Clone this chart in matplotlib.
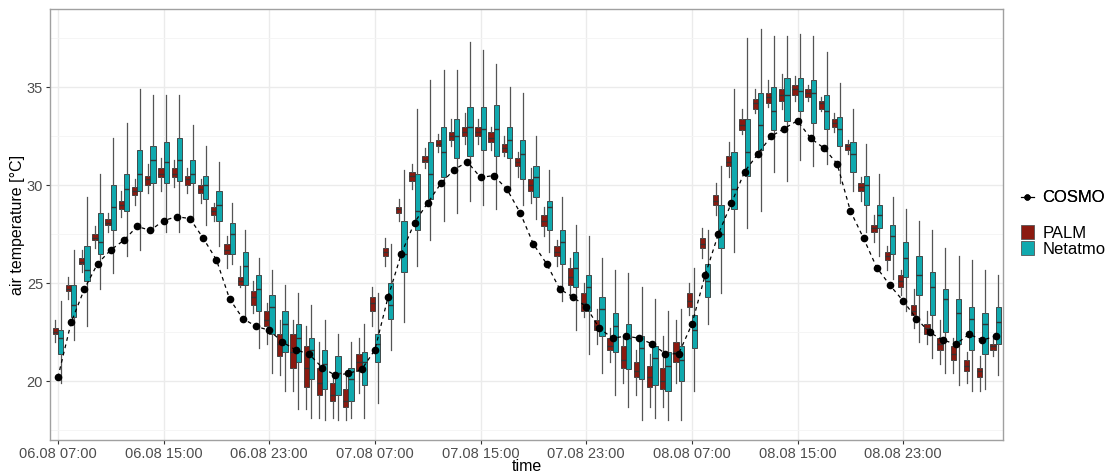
import matplotlib
matplotlib.use("Agg")
import matplotlib.pyplot as plt
from matplotlib.lines import Line2D
from matplotlib.patches import Patch
import numpy as np
import pandas as pd

plt.rcParams['font.family'] = ['Liberation Sans', 'DejaVu Sans']

# ---------------- data ----------------
start_time = "2019-08-06 07:00"
n_hours = 72
tick_labels = ["06.08 07:00", "06.08 15:00", "06.08 23:00",
               "07.08 07:00", "07.08 15:00", "07.08 23:00",
               "08.08 07:00", "08.08 15:00", "08.08 23:00"]

cosmo = [20.2, 23.0, 24.7, 26.0, 26.7, 27.2, 27.9, 27.7, 28.2, 28.4, 28.3, 27.3,
         26.2, 24.2, 23.2, 22.8, 22.6, 22.0, 21.6, 21.4, 20.7, 20.3, 20.4, 20.6,
         21.6, 24.3, 26.5, 28.1, 29.1, 30.1, 30.8, 31.2, 30.4, 30.5, 29.8, 28.6,
         27.0, 26.0, 24.7, 24.3, 23.8, 22.7, 22.2, 22.3, 22.2, 21.9, 21.4, 21.4,
         22.9, 25.4, 27.5, 29.1, 30.7, 31.6, 32.5, 32.9, 33.3, 32.4, 31.9, 31.1,
         28.7, 27.3, 25.8, 24.9, 24.1, 23.2, 22.5, 22.1, 21.9, 22.4, 22.1, 22.3]

palm_lo = [22.0, 24.2, 25.6, 26.8, 27.6, 28.4, 29.0, 29.6, 29.7, 29.9, 29.6, 29.1,
           28.2, 25.8, 24.8, 23.5, 21.9, 20.3, 19.5, 18.6, 18.1, 18.1, 18.0, 19.4,
           22.8, 25.9, 28.2, 29.8, 30.9, 31.7, 32.0, 32.1, 32.1, 31.8, 31.5, 30.4,
           29.1, 27.4, 25.9, 24.3, 23.3, 21.9, 21.0, 19.9, 19.3, 18.7, 18.7, 19.9,
           23.4, 26.3, 28.5, 30.4, 32.6, 33.7, 34.0, 33.9, 34.3, 34.3, 33.8, 32.7,
           31.6, 29.2, 27.1, 25.7, 24.4, 22.7, 21.9, 20.9, 20.4, 19.9, 19.5, 21.3]
palm_q1 = [22.4, 24.6, 26.0, 27.2, 28.0, 28.8, 29.5, 30.0, 30.4, 30.4, 30.0, 29.6,
           28.5, 26.5, 24.9, 23.9, 22.8, 21.3, 20.7, 19.7, 19.3, 19.0, 18.7, 20.5,
           23.6, 26.4, 28.6, 30.2, 31.2, 32.0, 32.3, 32.5, 32.5, 32.2, 31.7, 31.0,
           29.7, 27.9, 26.4, 24.9, 23.6, 22.6, 21.6, 20.7, 20.2, 19.7, 19.6, 21.0,
           23.8, 26.8, 29.0, 31.0, 32.8, 33.9, 34.2, 34.3, 34.6, 34.5, 33.9, 33.0,
           31.8, 29.7, 27.6, 26.2, 24.8, 23.4, 22.4, 21.6, 21.1, 20.5, 20.2, 21.6]
palm_med = [22.5, 24.7, 26.1, 27.3, 28.1, 29.0, 29.7, 30.3, 30.6, 30.6, 30.3, 29.8,
            28.7, 26.7, 25.1, 24.3, 23.1, 21.9, 21.5, 20.7, 19.9, 19.3, 19.0, 21.0,
            24.0, 26.6, 28.8, 30.5, 31.3, 32.1, 32.5, 32.7, 32.7, 32.4, 31.9, 31.2,
            30.0, 28.2, 26.6, 25.3, 24.0, 22.8, 21.8, 21.1, 20.5, 20.2, 20.0, 21.5,
            24.1, 27.0, 29.2, 31.2, 33.1, 34.2, 34.5, 34.6, 34.9, 34.7, 34.2, 33.2,
            32.0, 29.9, 27.8, 26.4, 25.1, 23.6, 22.7, 21.9, 21.4, 20.8, 20.5, 21.8]
palm_q3 = [22.7, 24.9, 26.3, 27.5, 28.3, 29.2, 29.9, 30.5, 30.9, 30.9, 30.5, 30.0,
           28.9, 27.0, 25.3, 24.6, 23.6, 22.4, 22.4, 21.8, 20.7, 19.9, 19.6, 21.4,
           24.3, 26.8, 28.9, 30.7, 31.5, 32.3, 32.7, 33.0, 33.0, 32.7, 32.1, 31.4,
           30.3, 28.5, 26.9, 25.8, 24.5, 23.1, 22.2, 21.8, 21.0, 20.8, 20.7, 22.0,
           24.5, 27.3, 29.5, 31.5, 33.4, 34.4, 34.7, 34.9, 35.1, 34.9, 34.3, 33.4,
           32.1, 30.1, 28.0, 26.6, 25.4, 23.9, 22.9, 22.2, 21.8, 21.1, 20.7, 21.9]
palm_hi = [23.1, 25.3, 26.7, 27.9, 28.6, 29.7, 30.3, 31.1, 31.4, 31.3, 30.9, 30.3,
           29.1, 27.4, 25.9, 25.1, 24.0, 23.1, 23.1, 22.8, 22.0, 20.3, 20.3, 22.2,
           24.8, 27.3, 29.3, 31.1, 31.9, 32.6, 33.4, 33.7, 33.4, 33.0, 32.5, 31.7,
           30.9, 28.9, 27.2, 26.3, 25.0, 23.7, 22.7, 22.3, 21.6, 21.4, 22.3, 23.1,
           25.0, 27.8, 30.1, 32.2, 33.9, 34.9, 35.4, 35.7, 35.6, 35.1, 34.5, 33.7,
           32.3, 30.4, 28.5, 26.9, 25.7, 24.7, 23.6, 23.1, 22.2, 21.5, 21.3, 22.2]

net_lo = [19.9, 22.1, 22.8, 24.7, 25.5, 26.4, 26.7, 27.7, 27.6, 27.6, 28.2, 28.0,
          26.9, 26.0, 23.3, 21.7, 20.4, 19.5, 18.6, 18.1, 18.0, 18.0, 18.1, 18.1,
          18.9, 21.6, 23.0, 25.9, 27.2, 28.2, 28.6, 29.2, 29.0, 28.8, 29.9, 29.0,
          28.3, 26.6, 24.1, 22.6, 21.4, 20.4, 19.3, 18.7, 18.0, 18.1, 18.0, 18.0,
          19.5, 22.9, 24.5, 26.6, 27.8, 28.7, 30.7, 30.2, 31.3, 31.0, 31.1, 30.1,
          29.7, 27.6, 26.4, 25.2, 23.6, 22.0, 21.2, 20.4, 19.8, 19.5, 19.6, 20.3]
net_q1 = [21.4, 23.3, 25.1, 26.5, 27.7, 28.7, 29.7, 30.1, 30.1, 30.2, 30.1, 29.3,
          28.2, 26.5, 24.9, 23.6, 22.4, 21.5, 21.0, 20.1, 19.6, 19.3, 19.0, 19.8,
          21.0, 23.2, 25.6, 27.7, 29.3, 30.4, 31.4, 31.5, 31.8, 31.5, 31.4, 30.3,
          29.4, 27.7, 26.0, 24.8, 23.6, 22.3, 21.5, 20.6, 20.1, 19.8, 19.5, 20.0,
          21.7, 24.3, 26.8, 28.8, 30.5, 31.8, 32.8, 33.3, 33.8, 33.2, 32.9, 32.0,
          30.7, 29.0, 27.8, 26.5, 25.3, 24.4, 23.4, 22.5, 21.9, 21.6, 21.4, 21.9]
net_med = [22.2, 23.9, 25.7, 27.1, 28.9, 29.8, 30.6, 31.3, 31.2, 31.3, 30.6, 30.0,
           29.0, 27.5, 25.9, 24.7, 23.8, 22.9, 22.2, 21.6, 20.9, 20.4, 20.1, 21.0,
           21.9, 23.9, 26.5, 28.7, 30.6, 31.7, 32.5, 33.0, 32.9, 32.9, 32.3, 31.6,
           30.4, 28.9, 27.1, 25.8, 24.8, 23.7, 22.8, 22.2, 21.7, 21.2, 20.8, 21.1,
           22.6, 25.1, 27.5, 29.8, 31.7, 33.1, 33.8, 34.6, 34.8, 34.7, 33.8, 32.9,
           31.6, 30.0, 28.5, 27.4, 26.3, 25.4, 24.8, 24.2, 23.5, 23.2, 22.9, 23.0]
net_q3 = [22.6, 24.9, 26.9, 28.6, 30.0, 30.6, 31.8, 32.0, 32.2, 32.4, 31.3, 30.5,
          29.7, 28.1, 26.6, 25.4, 24.4, 23.6, 22.9, 22.2, 21.6, 21.3, 20.7, 21.5,
          22.4, 25.0, 28.2, 30.6, 32.2, 33.0, 33.4, 34.0, 34.0, 34.1, 33.0, 32.3,
          31.0, 29.2, 27.7, 26.6, 25.4, 24.3, 23.5, 22.9, 22.3, 21.8, 21.5, 21.8,
          23.4, 26.0, 29.0, 31.7, 33.4, 34.7, 35.0, 35.5, 35.5, 35.4, 34.6, 33.5,
          32.2, 30.5, 29.0, 28.0, 27.1, 26.4, 25.6, 24.7, 24.2, 23.8, 23.5, 23.8]
net_hi = [24.1, 26.7, 29.4, 30.6, 32.4, 33.2, 34.9, 34.6, 34.6, 34.6, 33.1, 32.0,
          31.2, 29.1, 27.7, 26.3, 25.7, 24.9, 24.5, 23.9, 23.1, 22.4, 22.0, 22.9,
          24.5, 27.0, 30.8, 33.9, 35.4, 35.9, 35.9, 37.3, 36.9, 36.2, 35.0, 34.7,
          32.5, 30.8, 29.4, 28.0, 27.4, 26.3, 25.7, 25.5, 24.8, 24.2, 23.6, 23.7,
          25.8, 27.7, 31.0, 34.9, 37.5, 38.0, 37.6, 37.6, 37.7, 37.6, 36.8, 35.2,
          33.9, 32.1, 30.6, 29.4, 28.8, 28.2, 27.7, 26.8, 26.4, 26.2, 25.7, 25.4]

series_names = ["COSMO", "PALM", "Netatmo"]
palm_color = "#8B1A10"
net_color = "#10A9AE"

# ---------------- figure ----------------
times = pd.date_range(start_time, periods=n_hours, freq="h")
x = ((times - times[0]) / pd.Timedelta(hours=1)).to_numpy(dtype=float)

fig = plt.figure(figsize=(11.10, 4.74), dpi=100)
ax = fig.add_axes([50 / 1110, 1 - 440 / 474, (1003 - 50) / 1110, (440 - 9) / 474])


def make_stats(lo, q1, med, q3, hi):
    return [dict(whislo=a, q1=b, med=c, q3=d, whishi=e, fliers=[])
            for a, b, c, d, e in zip(lo, q1, med, q3, hi)]


common = dict(widths=0.4, patch_artist=True, showfliers=False, showcaps=False,
              manage_ticks=False, zorder=3)
ax.bxp(make_stats(palm_lo, palm_q1, palm_med, palm_q3, palm_hi), positions=x - 0.2,
       boxprops=dict(facecolor=palm_color, edgecolor="#333333", linewidth=0.6),
       whiskerprops=dict(color="#555555", linewidth=0.9),
       medianprops=dict(color="#333333", linewidth=1.0), **common)
ax.bxp(make_stats(net_lo, net_q1, net_med, net_q3, net_hi), positions=x + 0.2,
       boxprops=dict(facecolor=net_color, edgecolor="#333333", linewidth=0.6),
       whiskerprops=dict(color="#555555", linewidth=0.9),
       medianprops=dict(color="#333333", linewidth=1.0), **common)

ax.plot(x, cosmo, color="black", linestyle=(0, (3, 3)), linewidth=0.9, zorder=4)
ax.plot(x, cosmo, color="black", linestyle="none", marker="o", markersize=4.5, zorder=5)

ax.set_xlim(-0.6, 71.56)
ax.set_ylim(17, 39)
ax.set_xticks(x[::8][:len(tick_labels)])
ax.set_xticklabels(tick_labels)
ax.set_yticks([20, 25, 30, 35])
ax.set_yticks([17.5, 22.5, 27.5, 32.5, 37.5], minor=True)
ax.grid(which="major", color="#EBEBEB", linewidth=1.0, zorder=0)
ax.grid(which="minor", axis="y", color="#F4F4F4", linewidth=0.6, zorder=0)
ax.set_axisbelow(True)
for s in ax.spines.values():
    s.set_color("#A0A0A0")
    s.set_linewidth(1.0)
ax.tick_params(axis="both", which="major", length=3, width=0.8, color="#333333",
               labelsize=10.5, labelcolor="#4D4D4D", pad=2)
ax.tick_params(axis="both", which="minor", length=0)
ax.set_xlabel("time", fontsize=11.5)
ax.xaxis.set_label_coords(0.5, -0.044)
ax.set_ylabel("air temperature [°C]", fontsize=11.5)
ax.yaxis.set_label_coords(-0.026, 0.5)

# legends
h1 = [Line2D([0], [0], color="black", marker="o", markersize=3.5, linewidth=0.8)]
leg1 = fig.legend(h1, series_names[:1], loc="center left",
                  bbox_to_anchor=(1014 / 1110, 1 - 198 / 474), frameon=False,
                  fontsize=12, handlelength=0.8, handletextpad=0.5, borderaxespad=0)
h2 = [Patch(facecolor=palm_color, edgecolor="#555555", linewidth=0.6),
      Patch(facecolor=net_color, edgecolor="#555555", linewidth=0.6)]
fig.legend(h2, series_names[1:], loc="center left",
           bbox_to_anchor=(1014 / 1110, 1 - 241 / 474), frameon=False,
           fontsize=12, handlelength=0.8, handleheight=0.9, handletextpad=0.5,
           labelspacing=0.05, borderaxespad=0)
fig.add_artist(leg1)

fig.savefig("out.png", dpi=100)
